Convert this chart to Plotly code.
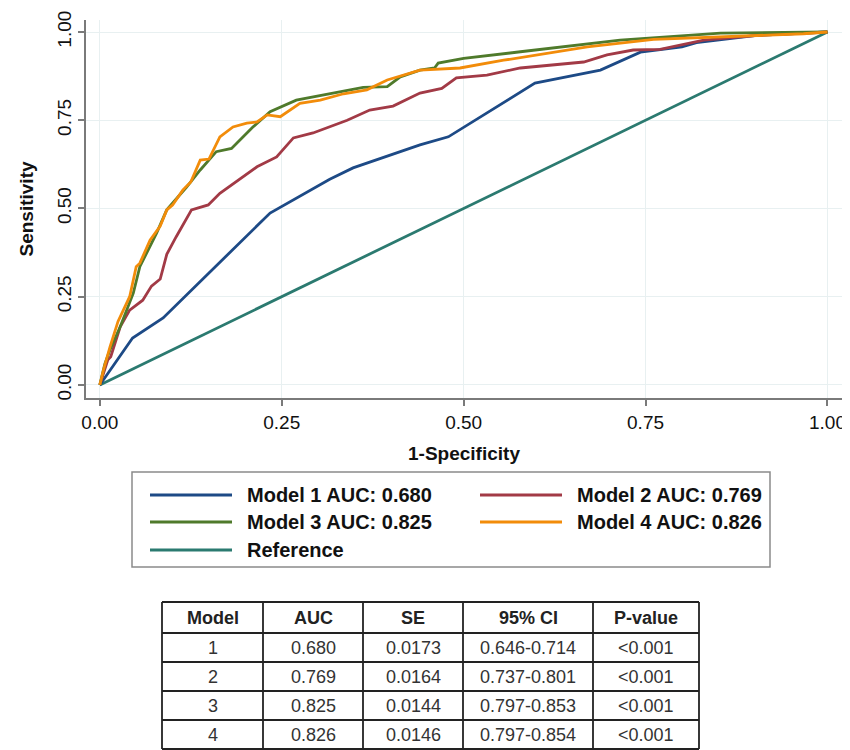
import plotly.graph_objects as go

# ---------------- data ----------------
model_names = ["Model 1 AUC: 0.680", "Model 2 AUC: 0.769",
               "Model 3 AUC: 0.825", "Model 4 AUC: 0.826", "Reference"]
model_colors = ["#1d4a86", "#a23a46", "#4f7a2b", "#f28c0a", "#2b7a70"]

fpr1 = [0, 0.045, 0.087, 0.156, 0.234, 0.316, 0.348, 0.44, 0.479, 0.598, 0.688, 0.743, 0.80, 0.82, 0.9, 1.0]
tpr1 = [0, 0.133, 0.19, 0.33, 0.487, 0.583, 0.615, 0.68, 0.703, 0.855, 0.892, 0.943, 0.958, 0.97, 0.99, 1.0]

fpr2 = [0, 0.011, 0.015, 0.028, 0.041, 0.059, 0.071, 0.083, 0.092, 0.105,
        0.126, 0.149, 0.165, 0.197, 0.216, 0.243, 0.266, 0.293, 0.34, 0.371,
        0.403, 0.44, 0.47, 0.49, 0.532, 0.578, 0.665, 0.697, 0.733, 0.77,
        0.83, 0.9, 1.0]
tpr2 = [0, 0.071, 0.08, 0.165, 0.212, 0.24, 0.28, 0.30, 0.37, 0.42,
        0.496, 0.51, 0.543, 0.59, 0.618, 0.646, 0.70, 0.714, 0.75, 0.779,
        0.79, 0.827, 0.84, 0.87, 0.878, 0.898, 0.915, 0.935, 0.949, 0.951,
        0.977, 0.99, 1.0]

fpr3 = [0, 0.007, 0.014, 0.028, 0.046, 0.055, 0.078, 0.092, 0.119, 0.138,
        0.16, 0.181, 0.21, 0.234, 0.27, 0.32, 0.362, 0.395, 0.413, 0.44,
        0.46, 0.465, 0.5, 0.578, 0.715, 0.853, 1.0]
tpr3 = [0, 0.06, 0.1, 0.165, 0.26, 0.335, 0.43, 0.496, 0.56, 0.609,
        0.661, 0.67, 0.73, 0.774, 0.807, 0.827, 0.843, 0.845, 0.873, 0.892,
        0.898, 0.912, 0.925, 0.944, 0.977, 0.997, 1.0]

fpr4 = [0, 0.005, 0.014, 0.025, 0.041, 0.05, 0.055, 0.069, 0.083, 0.092,
        0.1, 0.114, 0.125, 0.138, 0.15, 0.16, 0.165, 0.183, 0.202, 0.216,
        0.23, 0.248, 0.275, 0.303, 0.335, 0.367, 0.395, 0.44, 0.47, 0.495,
        0.555, 0.67, 0.761, 0.898, 0.967, 1.0]
tpr4 = [0, 0.042, 0.108, 0.18, 0.25, 0.335, 0.345, 0.41, 0.45, 0.496,
        0.51, 0.552, 0.575, 0.637, 0.64, 0.68, 0.703, 0.731, 0.742, 0.745,
        0.765, 0.76, 0.798, 0.807, 0.825, 0.836, 0.864, 0.892, 0.895, 0.898,
        0.92, 0.958, 0.979, 0.99, 0.995, 1.0]

ref_x = [0, 1]
ref_y = [0, 1]

tick_vals = [0, 0.25, 0.5, 0.75, 1.0]
tick_text = ["0.00", "0.25", "0.50", "0.75", "1.00"]

table_header = ["Model", "AUC", "SE", "95% CI", "P-value"]
tbl_model = ["1", "2", "3", "4"]
tbl_auc = ["0.680", "0.769", "0.825", "0.826"]
tbl_se = ["0.0173", "0.0164", "0.0144", "0.0146"]
tbl_ci = ["0.646-0.714", "0.737-0.801", "0.797-0.853", "0.797-0.854"]
tbl_p = ["<0.001", "<0.001", "<0.001", "<0.001"]

# ---------------- figure ----------------
W, H = 850, 750
OFF = 8  # page body margin offset
FONT = "Arial, 'Liberation Sans', sans-serif"


def px(x):
    return (x - OFF) / W


def py(y):
    return 1 - (y - OFF) / H


fig = go.Figure()

series = [(ref_x, ref_y, 4), (fpr1, tpr1, 0), (fpr2, tpr2, 1), (fpr3, tpr3, 2), (fpr4, tpr4, 3)]
for xs, ys, i in series:
    fig.add_trace(go.Scatter(x=xs, y=ys, mode="lines", name=model_names[i],
                             line=dict(color=model_colors[i], width=2.8),
                             showlegend=False))

axis_common = dict(showline=True, linecolor="#7a7a7a", linewidth=1.5,
                   ticks="outside", ticklen=6, tickcolor="#7a7a7a", tickwidth=1.5,
                   showgrid=True, gridcolor="#e8f0f1", gridwidth=1,
                   zeroline=False, mirror=False, automargin=False,
                   tickvals=tick_vals, ticktext=tick_text,
                   tickfont=dict(family=FONT, size=19, color="#111"))

fig.update_xaxes(domain=[px(86), px(842)], range=[-0.019, 1.02],
                 title=dict(text="<b>1-Specificity</b>", font=dict(family=FONT, size=19, color="#111")),
                 **axis_common)
fig.update_yaxes(domain=[py(398), py(20)], range=[-0.037, 1.034], tickangle=-90,
                 title=dict(text="<b>Sensitivity</b>", font=dict(family=FONT, size=19, color="#111")),
                 **axis_common)

# ---------------- legend (drawn box) ----------------
shapes = [dict(type="rect", xref="paper", yref="paper",
               x0=px(132), x1=px(770), y0=py(567), y1=py(472),
               line=dict(color="#8a8a8a", width=1.5), fillcolor="rgba(0,0,0,0)")]
annotations = []
slots = [(150, 495), (480, 495), (150, 522), (480, 522), (150, 550)]
for i, (lx, ly) in enumerate(slots):
    shapes.append(dict(type="line", xref="paper", yref="paper",
                       x0=px(lx), x1=px(lx + 82), y0=py(ly), y1=py(ly),
                       line=dict(color=model_colors[i], width=3)))
    annotations.append(dict(xref="paper", yref="paper", x=px(lx + 95), y=py(ly),
                            xanchor="left", yanchor="middle", showarrow=False,
                            text="<b>" + model_names[i] + "</b>",
                            font=dict(family=FONT, size=20, color="#111")))

# ---------------- statistics table (drawn grid) ----------------
col_widths = [101, 100, 100, 130, 106]
tbl_left, tbl_top = 162, 602
header_h, row_h = 31, 29
columns = [tbl_model, tbl_auc, tbl_se, tbl_ci, tbl_p]
n_rows = len(tbl_model)

col_edges = [tbl_left]
for w in col_widths:
    col_edges.append(col_edges[-1] + w)
row_edges = [tbl_top, tbl_top + header_h]
for r in range(n_rows):
    row_edges.append(row_edges[-1] + row_h)

for xe in col_edges:
    shapes.append(dict(type="line", xref="paper", yref="paper",
                       x0=px(xe), x1=px(xe), y0=py(row_edges[0]), y1=py(row_edges[-1]),
                       line=dict(color="#222", width=1.8)))
for ye in row_edges:
    shapes.append(dict(type="line", xref="paper", yref="paper",
                       x0=px(col_edges[0]), x1=px(col_edges[-1]), y0=py(ye), y1=py(ye),
                       line=dict(color="#222", width=1.8)))

for c, head in enumerate(table_header):
    cx = (col_edges[c] + col_edges[c + 1]) / 2
    annotations.append(dict(xref="paper", yref="paper", x=px(cx),
                            y=py((row_edges[0] + row_edges[1]) / 2),
                            xanchor="center", yanchor="middle", showarrow=False,
                            text="<b>" + head + "</b>",
                            font=dict(family=FONT, size=18, color="#222")))
    for r in range(n_rows):
        annotations.append(dict(xref="paper", yref="paper", x=px(cx),
                                y=py((row_edges[r + 1] + row_edges[r + 2]) / 2),
                                xanchor="center", yanchor="middle", showarrow=False,
                                text=columns[c][r],
                                font=dict(family=FONT, size=18, color="#333")))

fig.update_layout(width=W, height=H, margin=dict(l=0, r=0, t=0, b=0),
                  paper_bgcolor="white", plot_bgcolor="white",
                  shapes=shapes, annotations=annotations,
                  font=dict(family=FONT))

fig.write_html("out.html")
